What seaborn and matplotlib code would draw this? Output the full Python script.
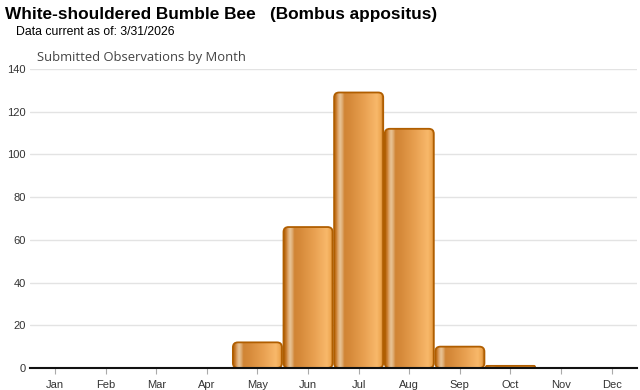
import numpy as np
import matplotlib
matplotlib.use("Agg")
import matplotlib.pyplot as plt
from matplotlib.patches import FancyBboxPatch
from matplotlib.colors import to_rgb
import seaborn as sns

months = ["Jan", "Feb", "Mar", "Apr", "May", "Jun", "Jul", "Aug", "Sep", "Oct", "Nov", "Dec"]
counts = [0, 0, 0, 0, 12, 66, 129, 112, 10, 1, 0, 0]
yticks = [0, 20, 40, 60, 80, 100, 120, 140]

title = "White-shouldered Bumble Bee   (Bombus appositus)"
subtitle = "Data current as of: 3/31/2026"
chart_title = "Submitted Observations by Month"

sns.set_theme(style="white")
plt.rcParams["font.family"] = ["Liberation Sans", "DejaVu Sans"]

W, H = 640, 390
fig = plt.figure(figsize=(W / 100, H / 100), dpi=100)
ax_left, ax_right, ax_bottom, ax_top = 29.7, 637, 368, 69
ax = fig.add_axes([ax_left / W, 1 - ax_bottom / H, (ax_right - ax_left) / W, (ax_bottom - ax_top) / H])

sns.barplot(x=months, y=counts, ax=ax, width=0.97, color="#e09a48", zorder=2)

ax.set_xlim(-0.5, 11.5)
ax.set_ylim(0, 140)
ax.set_yticks(yticks)

# gradient across bar
stops = [
    (0.00, "#b0600c"),
    (0.04, "#c97a28"),
    (0.08, "#dca66c"),
    (0.12, "#e8c496"),
    (0.16, "#e0b078"),
    (0.21, "#d08434"),
    (0.32, "#d68a3a"),
    (0.60, "#e8a050"),
    (0.86, "#f8b86a"),
    (0.94, "#eea650"),
    (1.00, "#b0640e"),
]
N = 200
tt = np.linspace(0, 1, N)
cols = np.array([to_rgb(c) for _, c in stops])
pos = np.array([p for p, _ in stops])
grad = np.stack([np.interp(tt, pos, cols[:, k]) for k in range(3)], axis=-1)[None, :, :]

ax_w_px = ax_right - ax_left
ax_h_px = ax_bottom - ax_top
px_per_x = ax_w_px / 12.0
px_per_y = ax_h_px / 140.0

for p in list(ax.patches):
    x0 = p.get_x()
    w = p.get_width()
    h = p.get_height()
    p.set_visible(False)
    if h <= 0:
        continue
    h_px = h * px_per_y
    r_px = min(5.0, h_px / 2.0, w * px_per_x / 2.0)
    r_x = r_px / px_per_x
    aspect = px_per_x / px_per_y
    box = FancyBboxPatch((x0, 0), w, h,
                         boxstyle=f"round,pad=0,rounding_size={r_x}",
                         mutation_aspect=aspect,
                         facecolor="none", edgecolor="#b05e00", linewidth=1.3, zorder=4)
    ax.add_patch(box)
    clip = FancyBboxPatch((x0, 0), w, h,
                          boxstyle=f"round,pad=0,rounding_size={r_x}",
                          mutation_aspect=aspect,
                          facecolor="none", edgecolor="none", transform=ax.transData)
    ax.add_patch(clip)
    im = ax.imshow(grad, extent=(x0, x0 + w, 0, h), aspect="auto",
                   interpolation="bilinear", zorder=3)
    im.set_clip_path(clip)

ax.set_xlim(-0.5, 11.5)
ax.set_ylim(0, 140)
ax.set_aspect("auto")

ax.grid(axis="y", color="#e3e3e3", linewidth=1, zorder=0)
ax.grid(axis="x", visible=False)
for s in ["top", "right", "left"]:
    ax.spines[s].set_visible(False)
ax.spines["bottom"].set_color("#111111")
ax.spines["bottom"].set_linewidth(1.5)
ax.spines["bottom"].set_zorder(6)

ax.tick_params(axis="y", length=0, labelsize=8, labelcolor="#333333", pad=3)
ax.tick_params(axis="x", length=4, width=0.8, color="#aaaaaa", labelsize=8,
               labelcolor="#333333", pad=5, bottom=True, direction="out")
ax.set_xlabel("")
ax.set_ylabel("")

fig.text(5 / W, 1 - 15 / H, title, fontsize=12.4, fontweight="bold", color="#000000",
         ha="left", va="center")
fig.text(16 / W, 1 - 32 / H, subtitle, fontsize=8.8, color="#000000", ha="left", va="center")
fig.text(37 / W, 1 - 58 / H, chart_title, fontsize=9.4, color="#444444", ha="left",
         va="center", family=["Open Sans", "DejaVu Sans"])

fig.savefig("out.png", dpi=100)
